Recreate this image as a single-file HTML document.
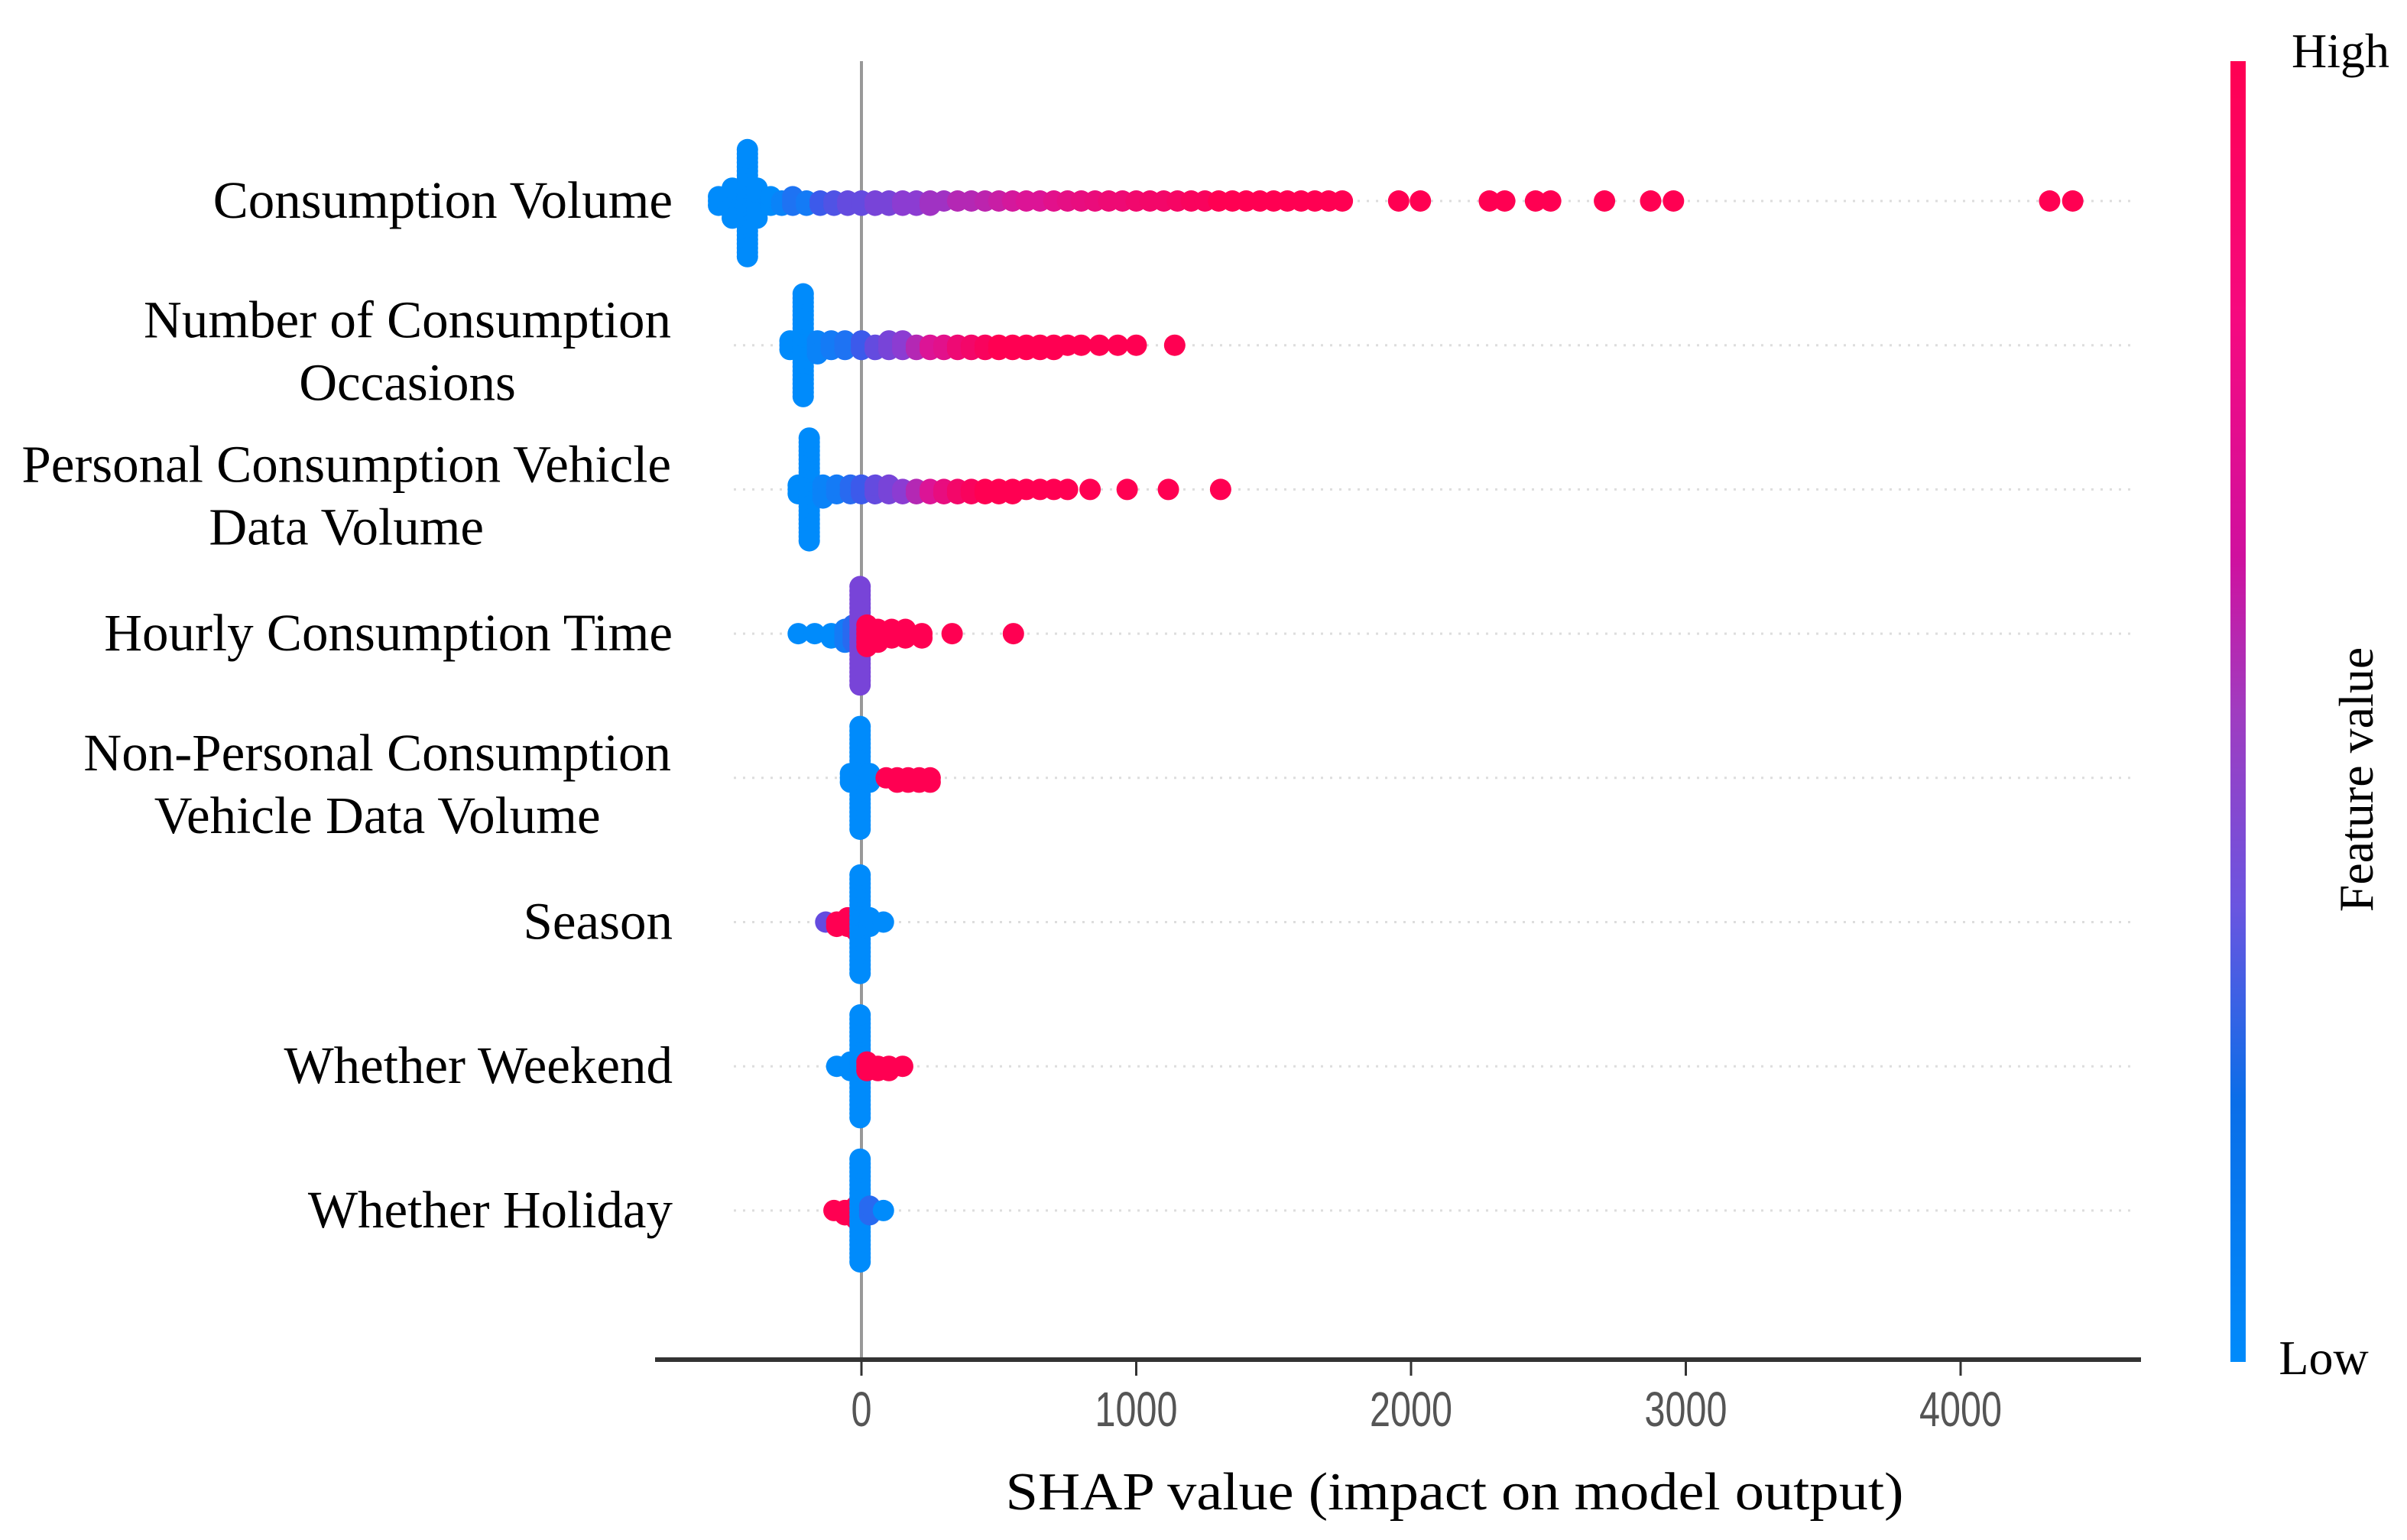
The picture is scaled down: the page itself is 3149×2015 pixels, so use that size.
<!DOCTYPE html>
<html><head><meta charset="utf-8"><style>
html,body{margin:0;padding:0;background:#fff;width:3149px;height:2015px;overflow:hidden}
svg{display:block}
</style></head><body>
<svg id="chart" width="3149" height="2015" viewBox="0 0 3149 2015" xmlns="http://www.w3.org/2000/svg">
<defs>
<linearGradient id="cb" x1="0" y1="1" x2="0" y2="0">
<stop offset="0" stop-color="#008bfb"/>
<stop offset="0.2" stop-color="#0a6ee8"/>
<stop offset="0.35" stop-color="#6a55e0"/>
<stop offset="0.5" stop-color="#a03cc0"/>
<stop offset="0.62" stop-color="#d0109e"/>
<stop offset="0.8" stop-color="#f50a80"/>
<stop offset="1" stop-color="#ff0052"/>
</linearGradient>
</defs>
<g id="grid"></g>
<line x1="1127" y1="80" x2="1127" y2="1779" stroke="#999" stroke-width="4"/>
<g id="dots"></g>
<g id="labels" font-family="Liberation Serif, serif" font-size="69" fill="#000"></g>
<line x1="857" y1="1779" x2="2801" y2="1779" stroke="#333" stroke-width="6"/>
<g id="xticks"></g>
<text x="1903" y="1975" font-family="Liberation Serif, serif" font-size="70" text-anchor="middle" textLength="1175" lengthAdjust="spacingAndGlyphs">SHAP value (impact on model output)</text>
<rect x="2918" y="80" width="20" height="1702" fill="url(#cb)"/>
<text x="3062" y="88" font-family="Liberation Serif, serif" font-size="64" text-anchor="middle">High</text>
<text x="3040" y="1798" font-family="Liberation Serif, serif" font-size="64" text-anchor="middle">Low</text>
<text transform="translate(3104,1020) rotate(-90)" font-family="Liberation Serif, serif" font-size="64" text-anchor="middle">Feature value</text>
</svg>
<script>
const features = ["Consumption Volume","Number of Consumption|Occasions","Personal Consumption Vehicle|Data Volume","Hourly Consumption Time","Non-Personal Consumption|Vehicle Data Volume","Season","Whether Weekend","Whether Holiday"];
const tickValues = [0,1000,2000,3000,4000];
const tickLabels = ["0","1000","2000","3000","4000"];
// per feature: SHAP values, feature colour (0 low .. 1 high), point counts
const shap0 = [-520,-470,-415,-380,-330,-290,-250,-200,-150,-100,-50,0,50,100,150,200,250,300,350,400,450,500,550,600,650,700,750,800,850,900,950,1000,1050,1100,1150,1200,1250,1300,1350,1400,1450,1500,1550,1600,1650,1700,1750,1955,2034,2285,2341,2453,2508,2704,2872,2955,4324,4408];
const color0 = [0,0,0,0,0,0.05,0.15,0.1,0.3,0.35,0.4,0.4,0.45,0.45,0.5,0.5,0.55,0.55,0.6,0.6,0.62,0.65,0.68,0.7,0.7,0.75,0.78,0.8,0.82,0.85,0.85,0.88,0.9,0.9,0.92,0.95,0.95,1,1,1,1,1,1,1,1,1,1,1,1,1,1,1,1,1,1,1,1,1];
const count0 = [3,8,26,8,3,2,3,2,2,2,2,2,2,2,2,2,2,1,1,1,1,1,1,1,1,1,1,1,1,1,1,1,1,1,1,1,1,1,1,1,1,1,1,1,1,1,1,1,1,1,1,1,1,1,1,1,1,1];
const shap1 = [-260,-212,-160,-110,-60,0,50,100,150,200,250,300,350,400,450,500,550,600,650,700,750,800,866,933,1000,1140];
const color1 = [0,0,0.05,0.1,0.15,0.3,0.4,0.45,0.5,0.6,0.7,0.75,0.85,0.9,0.95,1,1,1,1,1,1,1,1,1,1,1];
const count1 = [3,25,4,3,3,3,2,3,3,2,2,2,2,2,2,2,2,2,2,2,1,1,1,1,1,1];
const shap2 = [-230,-190,-140,-90,-40,0,50,100,150,200,250,300,350,400,450,500,550,600,650,700,750,832,967,1117,1307];
const color2 = [0,0,0.05,0.1,0.2,0.3,0.4,0.45,0.5,0.6,0.7,0.8,0.9,0.95,1,1,1,1,1,1,1,1,1,1,1];
const count2 = [3,25,4,3,3,3,3,3,2,2,2,2,2,2,2,2,2,1,1,1,1,1,1,1,1];
const shap3 = [-230,-170,-110,-60,-30,-5,20,60,110,160,220,330,553];
const color3 = [0,0,0,0.1,0.2,0.45,1,1,1,1,1,1,1];
const count3 = [1,1,2,4,5,24,6,4,3,3,2,1,1];
const shap4 = [-40,-5,30,90,130,170,210,250];
const color4 = [0,0,0,1,1,1,1,1];
const count4 = [3,25,3,1,2,2,2,2];
const shap5 = [-130,-90,-50,-20,-5,30,80];
const color5 = [0.4,1,1,1,0,0,0];
const count5 = [1,2,3,4,24,3,1];
const shap6 = [-90,-40,-5,20,60,100,150];
const color6 = [0,0,0,1,1,1,1];
const count6 = [1,3,25,3,2,2,1];
const shap7 = [-100,-60,-20,-5,30,80];
const color7 = [1,1,1,0,0.2,0];
const count7 = [1,2,4,25,3,1];
const shapSets = [shap0,shap1,shap2,shap3,shap4,shap5,shap6,shap7];
const colorSets = [color0,color1,color2,color3,color4,color5,color6,color7];
const countSets = [count0,count1,count2,count3,count4,count5,count6,count7];

const NS='http://www.w3.org/2000/svg';
const X0=1127, PX=359.5/1000;
function xScale(v){return X0+v*PX;}
function yRow(i){return 263+i*188.7;}
function lerp(a,b,t){return Math.round(a+(b-a)*t);}
function colorOf(c){
  const stops=[[0,[0,139,251]],[0.3,[60,90,235]],[0.5,[140,60,210]],[0.7,[220,20,150]],[1,[255,0,82]]];
  for(let k=1;k<stops.length;k++){ if(c<=stops[k][0]){const a=stops[k-1],b=stops[k];const t=(c-a[0])/(b[0]-a[0]);return `rgb(${lerp(a[1][0],b[1][0],t)},${lerp(a[1][1],b[1][1],t)},${lerp(a[1][2],b[1][2],t)})`;}}
  return 'rgb(255,0,82)';
}
const grid=document.getElementById('grid'), dots=document.getElementById('dots'), labels=document.getElementById('labels'), xt=document.getElementById('xticks');
features.forEach((f,i)=>{
  const y=yRow(i);
  const g=document.createElementNS(NS,'line');
  g.setAttribute('x1',960);g.setAttribute('x2',2790);g.setAttribute('y1',y);g.setAttribute('y2',y);
  g.setAttribute('stroke','#ddd');g.setAttribute('stroke-width',3);g.setAttribute('stroke-dasharray','3 9');
  
  
  grid.appendChild(g);
  const parts=f.split('|');
  if(parts.length===1){
    const t=document.createElementNS(NS,'text');
    
    
    t.setAttribute('x',880);t.setAttribute('y',y+22);t.setAttribute('text-anchor','end');
    t.textContent=parts[0];
    labels.appendChild(t);
  } else {
    const t1=document.createElementNS(NS,'text');
    
    
    t1.setAttribute('x',878);t1.setAttribute('y',y-10);t1.setAttribute('text-anchor','end');
    t1.textContent=parts[0];
    labels.appendChild(t1);
    const w=t1.getComputedTextLength();
    const t2=document.createElementNS(NS,'text');
    
    
    t2.setAttribute('x',878-w/2);t2.setAttribute('y',y+72);t2.setAttribute('text-anchor','middle');
    t2.textContent=parts[1];
    labels.appendChild(t2);
  }
  const xs=shapSets[i], cs=colorSets[i], ns=countSets[i];
  xs.forEach((v,j)=>{
    for(let k=0;k<ns[j];k++){
      const off=((k+1)>>1)*5.6*(k%2?1:-1);
      const c=document.createElementNS(NS,'circle');
      c.setAttribute('cx',xScale(v));c.setAttribute('cy',y+off);c.setAttribute('r',14);
      c.setAttribute('fill',colorOf(cs[j]));
      
      
      dots.appendChild(c);
    }
  });
});
tickValues.forEach((v,i)=>{
  const x=xScale(v);
  const l=document.createElementNS(NS,'line');
  l.setAttribute('x1',x);l.setAttribute('x2',x);l.setAttribute('y1',1779);l.setAttribute('y2',1800);
  l.setAttribute('stroke','#333');l.setAttribute('stroke-width',3);
  
  
  xt.appendChild(l);
  const t=document.createElementNS(NS,'text');
  t.setAttribute('x',x);t.setAttribute('y',1866);t.setAttribute('text-anchor','middle');
  t.setAttribute('font-family','Liberation Sans, sans-serif');t.setAttribute('font-size','64');t.setAttribute('fill','#555');
  t.setAttribute('textLength',tickLabels[i].length*27);t.setAttribute('lengthAdjust','spacingAndGlyphs');
  
  
  t.textContent=tickLabels[i];
  xt.appendChild(t);
});
</script>
</body></html>
